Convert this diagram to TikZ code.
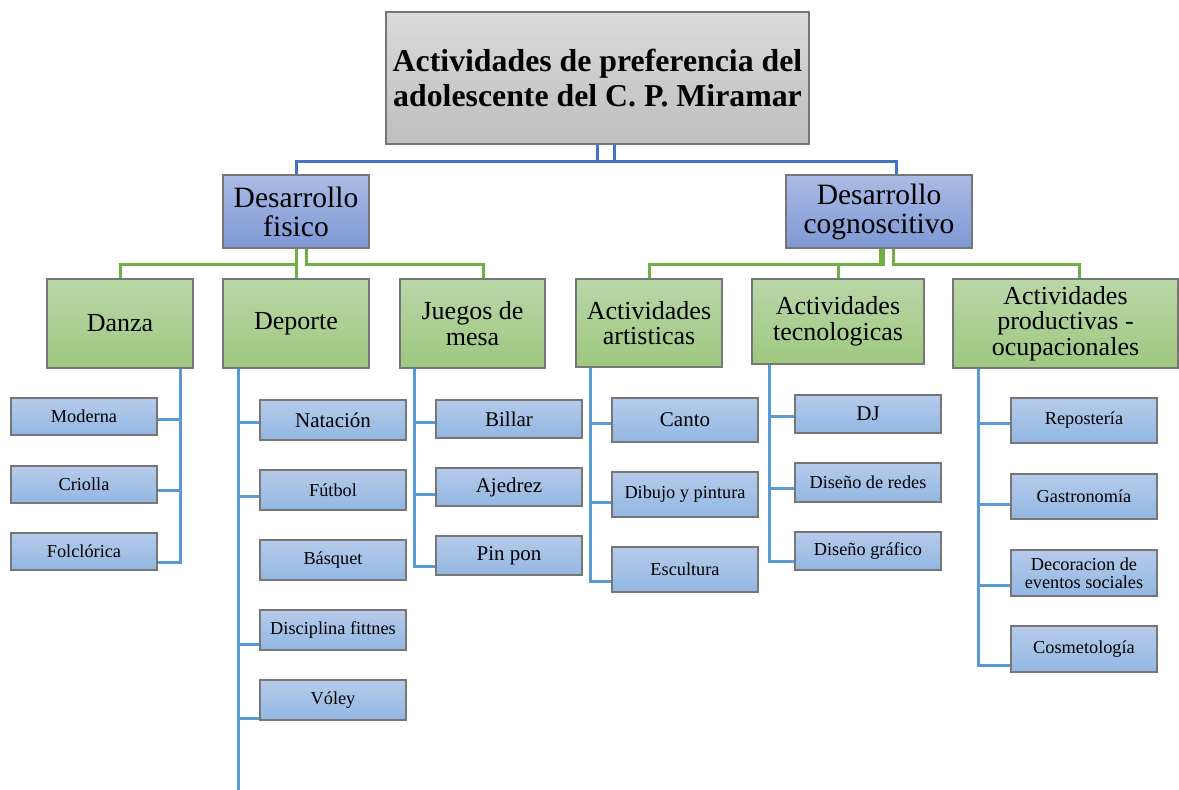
\documentclass[tikz,border=0pt]{standalone}
\usepackage{fontspec}
\setmainfont{Liberation Serif}
\definecolor{topc}{RGB}{68,114,196}
\definecolor{grc}{RGB}{112,173,71}
\definecolor{blc}{RGB}{91,155,213}
\definecolor{brd}{RGB}{118,118,118}
\tikzset{
  base/.style={draw=brd, line width=1.4pt, inner sep=1pt, align=center, text=black},
  graybox/.style={base, top color={rgb,255:red,218;green,218;blue,218}, bottom color={rgb,255:red,190;green,190;blue,190}, font=\bfseries\fontsize{31.8}{35}\selectfont},
  lvlone/.style={base, top color={rgb,255:red,172;green,187;blue,229}, bottom color={rgb,255:red,124;green,152;blue,212}, font=\fontsize{29.5}{29}\selectfont},
  lvltwo/.style={base, top color={rgb,255:red,186;green,214;blue,168}, bottom color={rgb,255:red,158;green,200;blue,128}, font=\fontsize{26}{25.5}\selectfont},
  leaf/.style={base, top color={rgb,255:red,182;green,203;blue,234}, bottom color={rgb,255:red,146;green,183;blue,226}, font=\fontsize{18.3}{18.5}\selectfont},
  bigleaf/.style={leaf, font=\fontsize{21}{21}\selectfont},
  tl/.style={draw=topc, line width=3pt},
  gl/.style={draw=grc, line width=3pt},
  bl/.style={draw=blc, line width=3pt},
}
\newcommand\mybox[7]{\node[#2, minimum width={(#5-#3)*1pt}, minimum height={(#6-#4)*1pt}] (#1) at ({(#3+#5)/2},{(#4+#6)/2}) {#7};}
\begin{document}
\begin{tikzpicture}[x=1pt,y=-1pt]
\useasboundingbox (0,0) rectangle (1179,790);
% boxes
\mybox{top}{graybox}{386}{12}{809}{144}{Actividades de preferencia del\\adolescente del C. P. Miramar}
\mybox{fis}{lvlone}{223}{175}{369}{248}{Desarrollo\\fisico}
\mybox{cog}{lvlone}{786}{175}{972}{248}{Desarrollo\\cognoscitivo}
\mybox{dan}{lvltwo}{47}{279}{193}{368}{Danza}
\mybox{dep}{lvltwo}{223}{279}{369}{368}{Deporte}
\mybox{jue}{lvltwo}{400}{279}{545}{368}{Juegos de\\mesa}
\mybox{art}{lvltwo}{576}{279}{722}{367}{Actividades\\artisticas}
\mybox{tec}{lvltwo}{752}{279}{924}{364}{Actividades\\tecnologicas}
\mybox{pro}{lvltwo}{953}{279}{1178}{368}{Actividades\\productivas -\\ocupacionales}
% leaves
\mybox{mod}{leaf}{11}{398}{157}{435}{Moderna}
\mybox{cri}{leaf}{11}{466}{157}{503}{Criolla}
\mybox{fol}{leaf}{11}{533}{157}{570}{Folclórica}
\mybox{nat}{bigleaf}{260}{400}{406}{440}{Natación}
\mybox{fut}{leaf}{260}{470}{406}{510}{Fútbol}
\mybox{bas}{leaf}{260}{540}{406}{580}{Básquet}
\mybox{dis}{leaf}{260}{610}{406}{650}{Disciplina fittnes}
\mybox{vol}{leaf}{260}{680}{406}{720}{Vóley}
\mybox{bil}{bigleaf}{436}{400}{582}{438}{Billar}
\mybox{aje}{bigleaf}{436}{468}{582}{506}{Ajedrez}
\mybox{pin}{bigleaf}{436}{536}{582}{575}{Pin pon}
\mybox{can}{bigleaf}{612}{398}{758}{442}{Canto}
\mybox{dib}{leaf}{612}{472}{758}{517}{Dibujo y pintura}
\mybox{esc}{leaf}{612}{547}{758}{592}{Escultura}
\mybox{dj}{bigleaf}{795}{395}{941}{433}{DJ}
\mybox{dre}{leaf}{795}{463}{941}{502}{Diseño de redes}
\mybox{dgr}{leaf}{795}{532}{941}{570}{Diseño gráfico}
\mybox{rep}{leaf}{1011}{398}{1157}{443}{Repostería}
\mybox{gas}{leaf}{1011}{474}{1157}{519}{Gastronomía}
\mybox{dec}{leaf}{1011}{550}{1157}{596}{Decoracion de\\eventos sociales}
\mybox{cos}{leaf}{1011}{626}{1157}{672}{Cosmetología}
\coordinate (depend) at (238,790);
% top connectors
\draw[tl] (top.south) -- ++(0,17) -| ([xshift=17pt]cog.north);
\draw[tl] ([xshift=17pt]top.south) -- ++(0,17) -| (fis.north);
% green connectors
\draw[gl] (fis.south) -- ++(0,16) -| (dan.north);
\draw[gl] (fis.south) -- (dep.north);
\draw[gl] ([xshift=10pt]fis.south) -- ++(0,16) -| ([xshift=10.5pt]jue.north);
\draw[gl] ([xshift=1pt]cog.south) -- ++(0,16) -| (art.north);
\draw[gl] ([xshift=4.5pt]cog.south) -- ++(0,16) -| (tec.north);
\draw[gl] ([xshift=14pt]cog.south) -- ++(0,16) -| ([xshift=13.5pt]pro.north);
% leaf connectors
\draw[bl] ([xshift=60pt]dan.south) |- ([yshift=-2.5pt]mod.east);
\draw[bl] ([xshift=60pt]dan.south) |- ([yshift=-5.5pt]cri.east);
\draw[bl] ([xshift=60pt]dan.south) |- ([yshift=-10.5pt]fol.east);
\draw[bl] ([xshift=-58pt]dep.south) -- (depend);
\draw[bl] ([xshift=-58pt]dep.south) |- ([yshift=-2pt]nat.west);
\draw[bl] ([xshift=-58pt]dep.south) |- ([yshift=-6pt]fut.west);
\draw[bl] ([xshift=-58pt]dep.south) |- ([yshift=-14pt]dis.west);
\draw[bl] ([xshift=-58pt]dep.south) |- ([yshift=-18pt]vol.west);
\draw[bl] ([xshift=-58.5pt]jue.south) |- ([yshift=-3pt]bil.west);
\draw[bl] ([xshift=-58.5pt]jue.south) |- ([yshift=-7pt]aje.west);
\draw[bl] ([xshift=-58.5pt]jue.south) |- ([yshift=-10.5pt]pin.west);
\draw[bl] ([xshift=-59pt]art.south) |- ([yshift=-3pt]can.west);
\draw[bl] ([xshift=-59pt]art.south) |- ([yshift=-7.5pt]dib.west);
\draw[bl] ([xshift=-59pt]art.south) |- ([yshift=-11.5pt]esc.west);
\draw[bl] ([xshift=-69pt]tec.south) |- ([yshift=-2pt]dj.west);
\draw[bl] ([xshift=-69pt]tec.south) |- ([yshift=-5.5pt]dre.west);
\draw[bl] ([xshift=-69pt]tec.south) |- ([yshift=-10pt]dgr.west);
\draw[bl] ([xshift=-87.5pt]pro.south) |- ([yshift=-2.5pt]rep.west);
\draw[bl] ([xshift=-87.5pt]pro.south) |- ([yshift=-7.5pt]gas.west);
\draw[bl] ([xshift=-87.5pt]pro.south) |- ([yshift=-12pt]dec.west);
\draw[bl] ([xshift=-87.5pt]pro.south) |- ([yshift=-16pt]cos.west);
\end{tikzpicture}
\end{document}
